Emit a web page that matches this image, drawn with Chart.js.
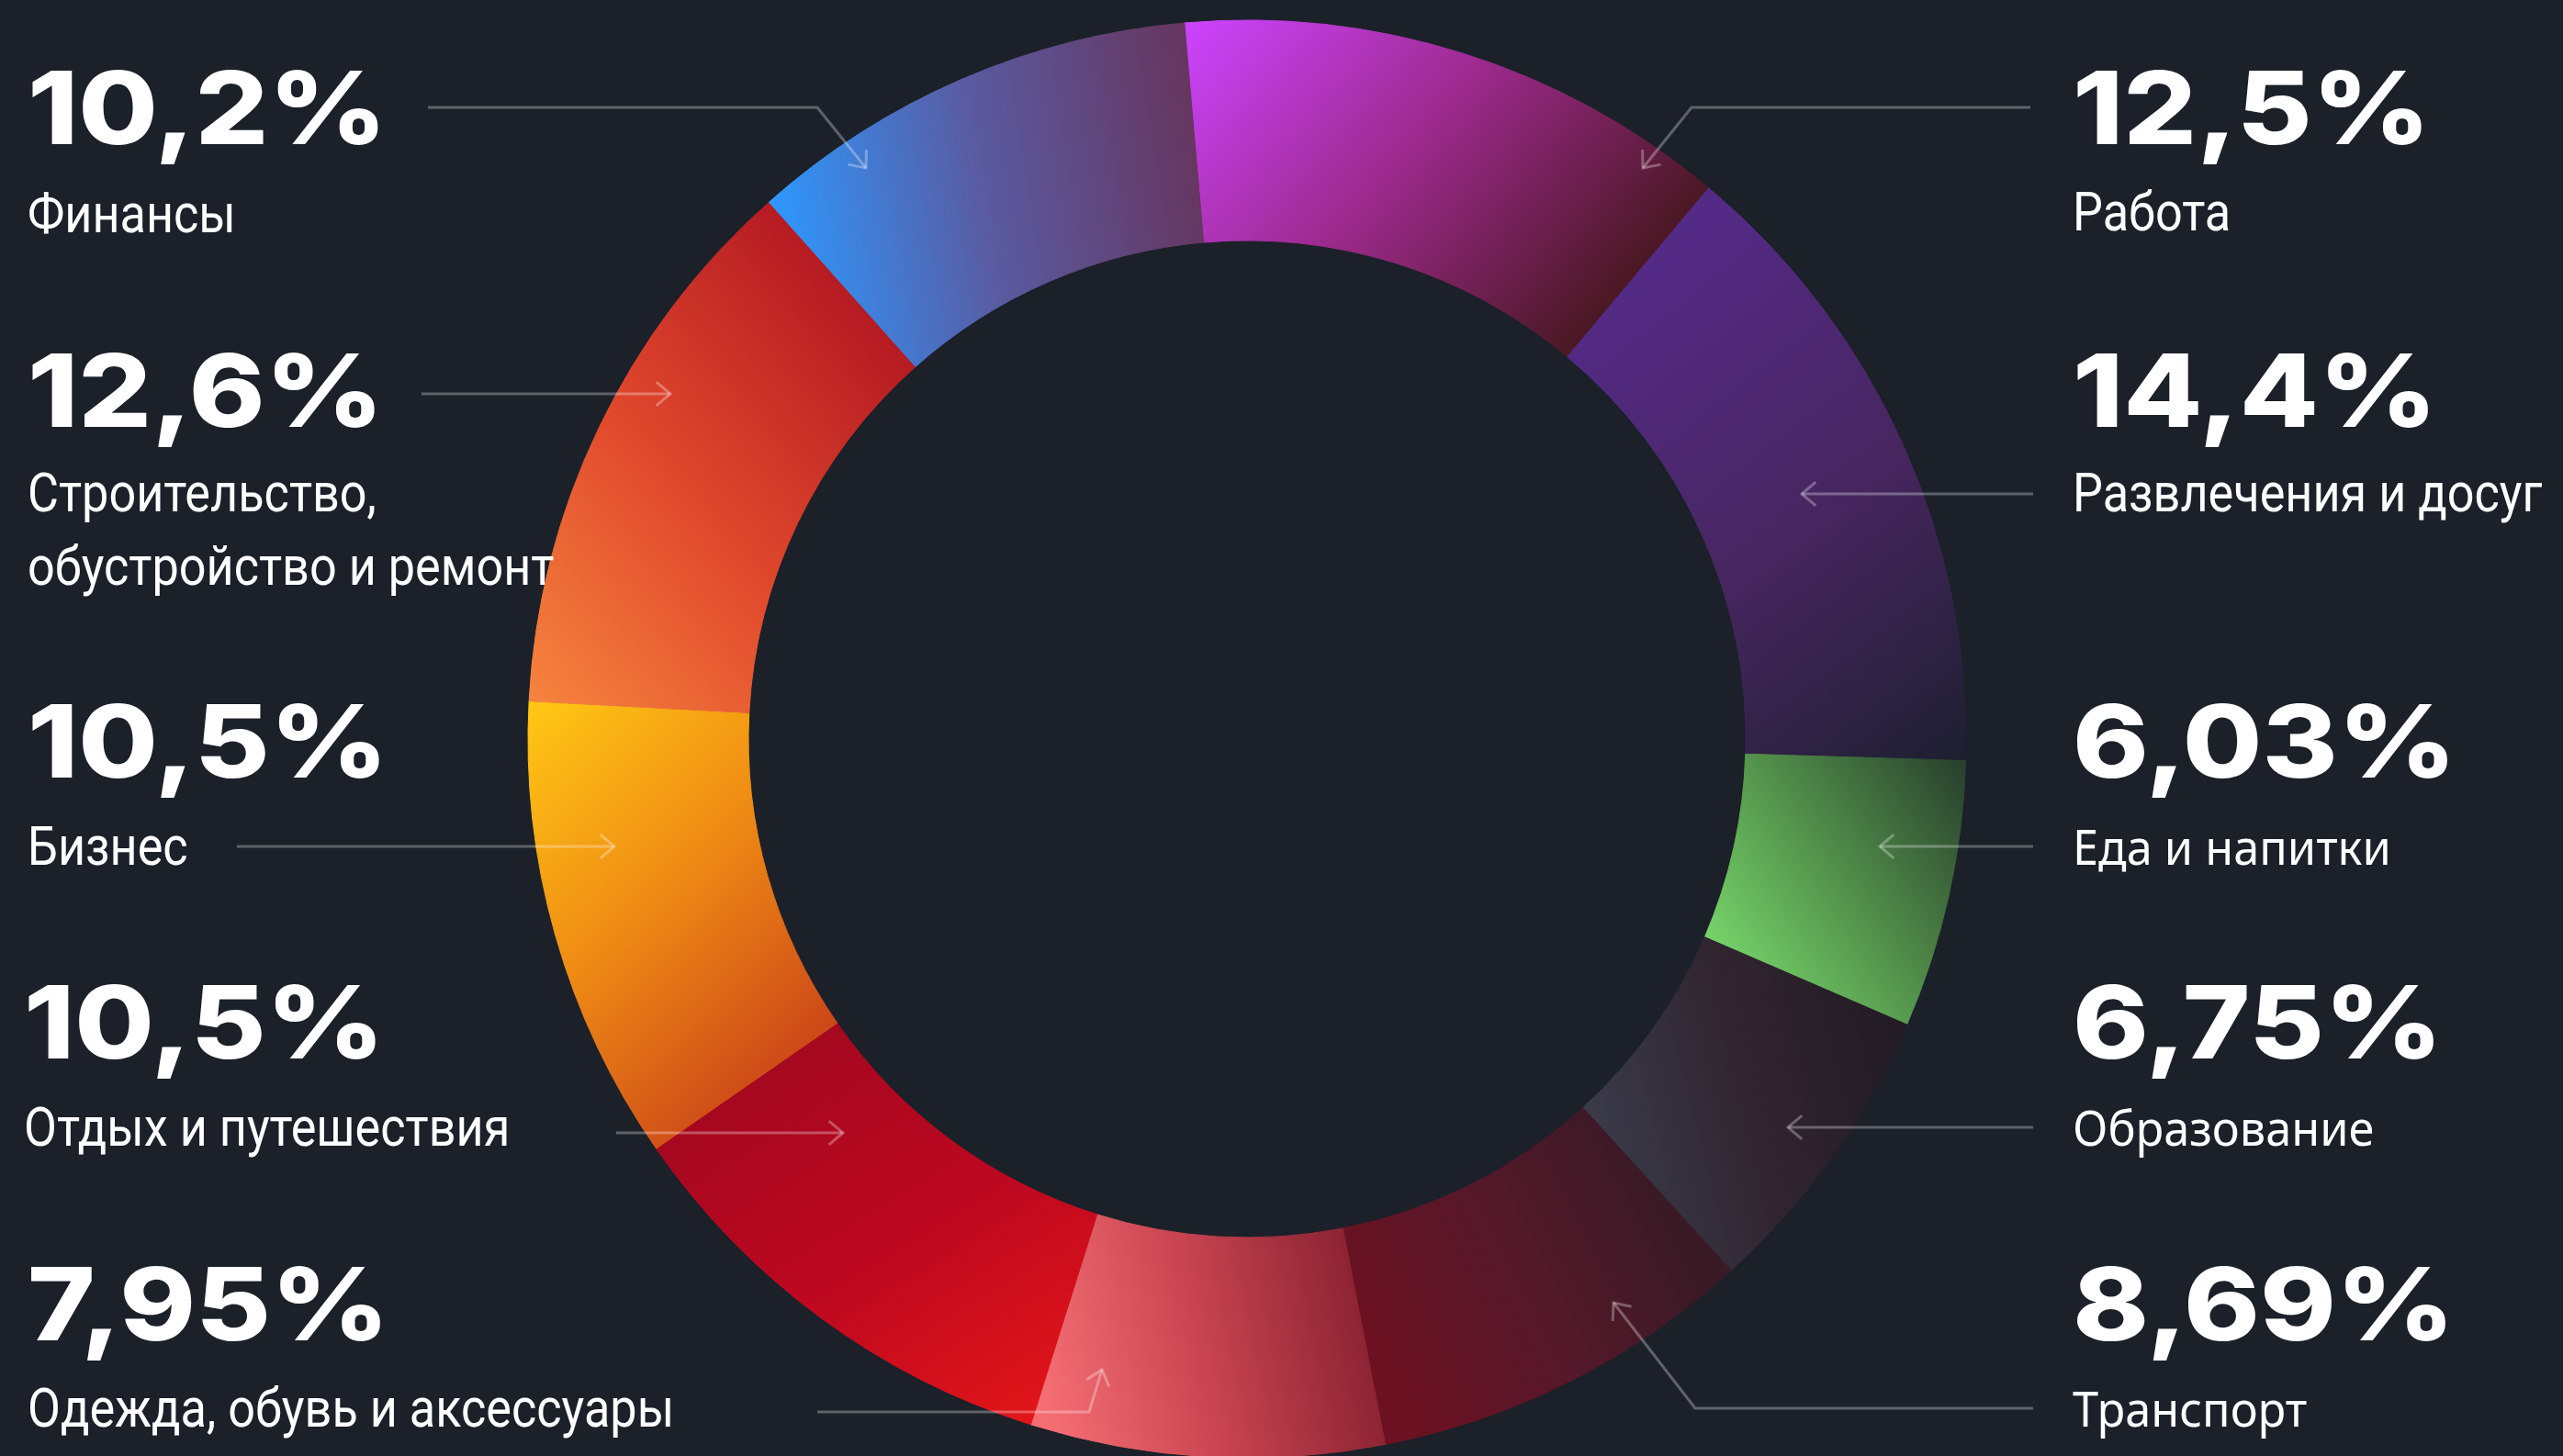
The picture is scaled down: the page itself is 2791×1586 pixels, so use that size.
<!DOCTYPE html>
<html lang="ru">
<head>
<meta charset="utf-8">
<title>Доли категорий</title>
<script src="https://cdn.jsdelivr.net/npm/chart.js@4.4.1/dist/chart.umd.min.js"></script>
<style>
  html, body { margin: 0; padding: 0; background: #1b2029; overflow: hidden; }
  #wrap { position: relative; width: 2791px; height: 1586px; }
  #chart { position: absolute; left: 0; top: 0; }
  .lbl { position: absolute; color: #fff; white-space: pre; transform-origin: 0 0; }
  .num { font-family: Inter; font-weight: 800; font-size: 110px; line-height: 1; transform: scaleX(1.14); }
  .name { font-family: Roboto; font-weight: 400; font-size: 60px; line-height: 80px; transform: scaleX(0.87); }
  .name.wide { font-family: "Noto Sans"; font-size: 52px; transform: scaleX(0.97); }
</style>
</head>
<body>
<div id="wrap">
  <canvas id="chart" width="2791" height="1586"></canvas>
</div>
<script>
// Доли категорий, по часовой стрелке от верха
const categories = [
  "Работа", "Развлечения и досуг", "Еда и напитки", "Образование", "Транспорт",
  "Одежда, обувь и аксессуары", "Отдых и путешествия", "Бизнес",
  "Строительство,\nобустройство и ремонт", "Финансы"
];
const shares = [12.5, 14.4, 6.03, 6.75, 8.69, 7.95, 10.5, 10.5, 12.6, 10.2];

// градиенты сегментов: цвета и точки [доля угла, доля толщины кольца]
const gradFrom = ["#cc44ff", "#532a85", "#76d46a", "#3a3b4a", "#6c1121", "#f46d73", "#a5081f", "#ffc814", "#f6843e", "#2e98ff"];
const gradMid  = ["#9c2a8c", "#472660", "#4f8a48", "#30242f", "#55182a", "#c84450", "#bd0820", "#ef8c14", "#e0482c", "#5a5aa0"];
const gradTo   = ["#4a1822", "#1d1f30", "#283f2c", "#221b24", "#3a1a25", "#8d2434", "#e21618", "#cc4818", "#b51b22", "#663660"];
const gradStart = [[0, 1], [0, 0.3], [1, 0], [1, 0], [1, 0.5], [1, 0.8], [1, 0.2], [1, 1], [0, 1], [0, 1]];
const gradEnd   = [[1, 0], [1, 1], [0, 1], [0, 1], [0, 0.5], [0, 0.4], [0, 1], [0, 0], [1, 0], [1, 0.5]];

// подписи: x слева, базовые линии числа и названия
const labelX    = [2257, 2257, 2257, 2257, 2257, 30, 26, 30, 30, 30];
const numBase   = [157, 465, 847, 1153, 1460, 1460, 1153, 847, 465, 157];
const nameBase  = [251, 557, 942, 1248, 1554, 1554, 1248, 942, 557, 253];
const wideName  = [false, false, true, true, true, false, false, false, false, false];

// выноски со стрелками (последняя точка — остриё)
const leaders = [
  [[2211, 117], [1842, 117], [1789, 183]],
  [[2214, 538], [1962, 538]],
  [[2214, 922], [2047, 922]],
  [[2214, 1228], [1947, 1228]],
  [[2214, 1534], [1846, 1534], [1757, 1419]],
  [[890, 1538], [1186, 1538], [1200, 1492]],
  [[671, 1234], [918, 1234]],
  [[258, 922], [669, 922]],
  [[459, 429], [730, 429]],
  [[466, 117], [890, 117], [943, 183]]
];

const ROTATION = -5;
const OUTER = 783;
const CUTOUT = 0.6935;

function fmt(v) { return String(v).replace(".", ",") + "%"; }

function segGradient(c) {
  const i = c.dataIndex;
  const chart = c.chart, area = chart.chartArea;
  if (!area || i === undefined) return gradFrom[i] || "#888";
  const cx = (area.left + area.right) / 2, cy = (area.top + area.bottom) / 2;
  const total = shares.reduce((a, b) => a + b, 0);
  let a0 = (ROTATION - 90) * Math.PI / 180;
  for (let k = 0; k < i; k++) a0 += shares[k] / total * 2 * Math.PI;
  const a1 = a0 + shares[i] / total * 2 * Math.PI;
  const rIn = OUTER * CUTOUT, rOut = OUTER;
  const pt = ([fa, fr]) => {
    const a = a0 + (a1 - a0) * fa, r = rIn + (rOut - rIn) * fr;
    return [cx + r * Math.cos(a), cy + r * Math.sin(a)];
  };
  const [x0, y0] = pt(gradStart[i]), [x1, y1] = pt(gradEnd[i]);
  const g = chart.ctx.createLinearGradient(x0, y0, x1, y1);
  g.addColorStop(0, gradFrom[i]);
  g.addColorStop(0.5, gradMid[i]);
  g.addColorStop(1, gradTo[i]);
  return g;
}

const leaderPlugin = {
  id: "leaders",
  afterDatasetsDraw(chart) {
    const ctx = chart.ctx;
    ctx.save();
    ctx.strokeStyle = "rgba(255,255,255,0.3)";
    ctx.lineWidth = 3;
    ctx.lineJoin = "miter";
    leaders.forEach(pts => {
      ctx.beginPath();
      pts.forEach(([x, y], k) => k ? ctx.lineTo(x, y) : ctx.moveTo(x, y));
      ctx.stroke();
      const [tx, ty] = pts[pts.length - 1], [px, py] = pts[pts.length - 2];
      const ang = Math.atan2(ty - py, tx - px);
      ctx.beginPath();
      ctx.moveTo(tx - 20 * Math.cos(ang - 0.7), ty - 20 * Math.sin(ang - 0.7));
      ctx.lineTo(tx, ty);
      ctx.lineTo(tx - 20 * Math.cos(ang + 0.7), ty - 20 * Math.sin(ang + 0.7));
      ctx.stroke();
    });
    ctx.restore();
  }
};

new Chart(document.getElementById("chart"), {
  type: "doughnut",
  data: {
    labels: categories,
    datasets: [{
      data: shares,
      backgroundColor: segGradient,
      borderColor: segGradient,
      borderWidth: 1,
      clip: false
    }]
  },
  options: {
    responsive: false,
    animation: false,
    events: [],
    rotation: ROTATION,
    radius: OUTER,
    cutout: (CUTOUT * 100) + "%",
    layout: { padding: { left: 0, right: 75, top: 24, bottom: 0 } },
    plugins: { legend: { display: false }, tooltip: { enabled: false } }
  },
  plugins: [leaderPlugin]
});

const wrap = document.getElementById("wrap");
categories.forEach((name, i) => {
  const n = document.createElement("div");
  n.className = "lbl num";
  n.textContent = fmt(shares[i]);
  n.style.left = labelX[i] + "px";
  n.style.top = (numBase[i] - 95) + "px";
  wrap.appendChild(n);

  const t = document.createElement("div");
  t.className = "lbl name" + (wideName[i] ? " wide" : "");
  t.textContent = name;
  t.style.left = labelX[i] + "px";
  t.style.top = (nameBase[i] - 60) + "px";
  wrap.appendChild(t);
});
</script>
</body>
</html>
